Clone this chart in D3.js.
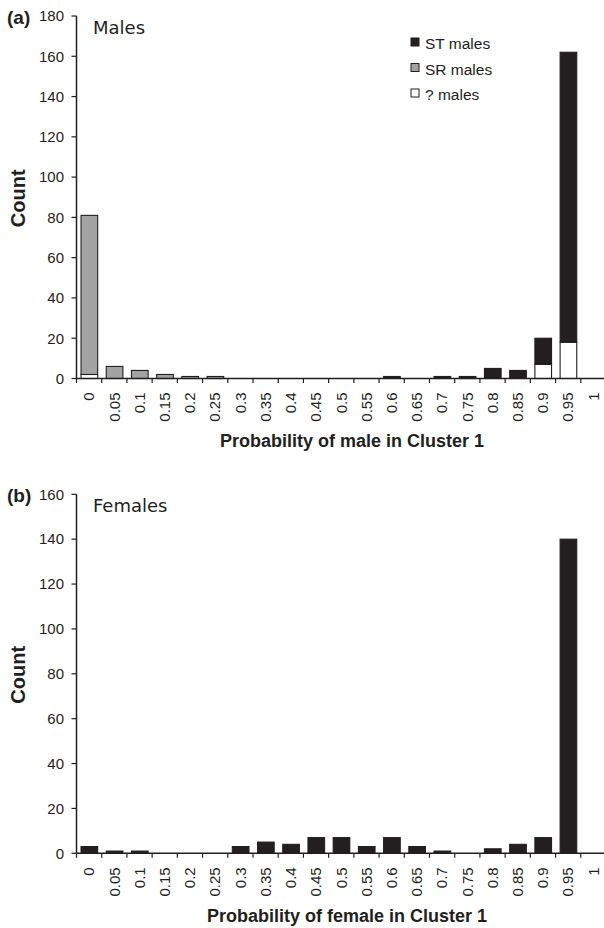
<!DOCTYPE html>
<html>
<head>
<meta charset="utf-8">
<script src="https://cdnjs.cloudflare.com/ajax/libs/d3/7.8.5/d3.min.js"></script>
<style>
  body { margin: 0; background: #fff; }
  svg text { font-family: "Liberation Sans", Arial, sans-serif; fill: #231f20; }
</style>
</head>
<body>
<svg id="chart" width="604" height="928"></svg>
<script>
// bins of the probability of belonging to Cluster 1
var bins = ["0", "0.05", "0.1", "0.15", "0.2", "0.25", "0.3", "0.35", "0.4", "0.45", "0.5",
            "0.55", "0.6", "0.65", "0.7", "0.75", "0.8", "0.85", "0.9", "0.95", "1"];

// (a) males, stacked
var maleUnknown = [2, 0, 0, 0, 0, 0, 0, 0, 0, 0, 0, 0, 0, 0, 0, 0, 0, 0, 7, 18, 0];
var maleSR      = [79, 6, 4, 2, 1, 1, 0, 0, 0, 0, 0, 0, 0, 0, 0, 0, 0, 0, 0, 0, 0];
var maleST      = [0, 0, 0, 0, 0, 0, 0, 0, 0, 0, 0, 0, 1, 0, 1, 1, 5, 4, 13, 144, 0];
var maleSeries  = ["unknown", "SR", "ST"];
var maleLegend  = ["ST males", "SR males", "? males"];
var maleTicks   = [0, 20, 40, 60, 80, 100, 120, 140, 160, 180];

// (b) females
var femaleCounts = [3, 1, 1, 0, 0, 0, 3, 5, 4, 7, 7, 3, 7, 3, 1, 0, 2, 4, 7, 140, 0];
var femaleTicks  = [0, 20, 40, 60, 80, 100, 120, 140, 160];

var colors = {"ST": "#231f20", "SR": "#a3a3a3", "unknown": "#ffffff"};
var ink = "#231f20";

var svg = d3.select("#chart");

var x = d3.scaleBand()
  .domain(bins)
  .range([76.5, 606])
  .padding(0);

var barInset = x.bandwidth() * 0.18,
    barWidth = x.bandwidth() * 0.66;

function drawPanel(opt) {
  var g = svg.append("g");
  var y = d3.scaleLinear().domain([0, opt.max]).range([opt.bottom, opt.top]);

  // bars
  opt.drawBars(g, y);

  // y axis
  g.append("line")
    .attr("x1", x.range()[0]).attr("x2", x.range()[0])
    .attr("y1", y(opt.max)).attr("y2", y(0))
    .attr("stroke", ink).attr("stroke-width", 1.5);
  g.selectAll(".ytick")
    .data(opt.ticks).enter()
    .append("line")
    .attr("x1", x.range()[0] - 5).attr("x2", x.range()[0])
    .attr("y1", function(d) { return y(d); })
    .attr("y2", function(d) { return y(d); })
    .attr("stroke", ink).attr("stroke-width", 1.2);
  g.selectAll(".ylab")
    .data(opt.ticks).enter()
    .append("text")
    .attr("x", 64)
    .attr("y", function(d) { return y(d) + 5.3; })
    .attr("text-anchor", "end")
    .style("font-size", "15px")
    .text(function(d) { return d; });

  // x axis
  g.append("line")
    .attr("x1", x.range()[0]).attr("x2", 604)
    .attr("y1", y(0)).attr("y2", y(0))
    .attr("stroke", ink).attr("stroke-width", 1.5);
  g.selectAll(".xtick")
    .data(bins).enter()
    .append("line")
    .attr("x1", function(d) { return x(d); })
    .attr("x2", function(d) { return x(d); })
    .attr("y1", y(0)).attr("y2", y(0) + 4.5)
    .attr("stroke", ink).attr("stroke-width", 1.2);
  g.selectAll(".xlab")
    .data(bins).enter()
    .append("text")
    .attr("transform", function(d) {
      return "translate(" + (x(d) + x.bandwidth() / 2 + 5.3) + "," + (y(0) + 14) + ") rotate(-90)";
    })
    .attr("text-anchor", "end")
    .style("font-size", "15px")
    .text(function(d) { return d; });

  // titles
  g.append("text")
    .attr("x", opt.titleX).attr("y", opt.titleY)
    .attr("text-anchor", "middle")
    .style("font-size", "18px").style("font-weight", "bold")
    .text(opt.xTitle);
  g.append("text")
    .attr("transform", "translate(25," + ((opt.top + opt.bottom) / 2 + 1) + ") rotate(-90)")
    .attr("text-anchor", "middle")
    .style("font-size", "20px").style("font-weight", "bold")
    .text("Count");
  g.append("text")
    .attr("x", 7).attr("y", opt.top + 8)
    .style("font-size", "19px").style("font-weight", "bold")
    .text(opt.letter);
  g.append("text")
    .attr("x", 93).attr("y", opt.top + 18)
    .style("font-family", "'DejaVu Sans', Verdana, sans-serif")
    .style("font-size", "18px")
    .text(opt.name);
  return y;
}

// (a) males
var maleRows = bins.map(function(b, i) {
  return {bin: b, unknown: maleUnknown[i], SR: maleSR[i], ST: maleST[i]};
});
var stacked = d3.stack().keys(maleSeries)(maleRows);

drawPanel({
  max: 180, top: 16, bottom: 378.5, ticks: maleTicks,
  letter: "(a)", name: "Males",
  xTitle: "Probability of male in Cluster 1", titleX: 352, titleY: 447,
  drawBars: function(g, y) {
    g.selectAll(".layer")
      .data(stacked).enter()
      .append("g")
      .attr("fill", function(s) { return colors[s.key]; })
      .selectAll("rect")
      .data(function(s) { return s.filter(function(d) { return d[1] > d[0]; }); })
      .enter()
      .append("rect")
      .attr("x", function(d) { return x(d.data.bin) + barInset; })
      .attr("y", function(d) { return y(d[1]); })
      .attr("width", barWidth)
      .attr("height", function(d) { return y(d[0]) - y(d[1]); })
      .attr("stroke", ink).attr("stroke-width", 1.1);
  }
});

// legend
var legend = svg.append("g").attr("transform", "translate(411,0)");
var legendKeys = ["ST", "SR", "unknown"];
legendKeys.forEach(function(k, i) {
  var row = legend.append("g").attr("transform", "translate(0," + (38 + i * 25.5) + ")");
  row.append("rect")
    .attr("width", 8).attr("height", 8)
    .attr("fill", colors[k]).attr("stroke", ink).attr("stroke-width", 1);
  row.append("text")
    .attr("x", 14).attr("y", 11)
    .style("font-size", "15.5px")
    .text(maleLegend[i]);
});

// (b) females
drawPanel({
  max: 160, top: 494.3, bottom: 853.3, ticks: femaleTicks,
  letter: "(b)", name: "Females",
  xTitle: "Probability of female in Cluster 1", titleX: 347, titleY: 921.5,
  drawBars: function(g, y) {
    g.selectAll(".fbar")
      .data(bins.filter(function(b, i) { return femaleCounts[i] > 0; }))
      .enter()
      .append("rect")
      .attr("x", function(b) { return x(b) + barInset; })
      .attr("y", function(b) { return y(femaleCounts[bins.indexOf(b)]); })
      .attr("width", barWidth)
      .attr("height", function(b) { return y(0) - y(femaleCounts[bins.indexOf(b)]); })
      .attr("fill", colors.ST)
      .attr("stroke", ink).attr("stroke-width", 1.1);
  }
});
</script>
</body>
</html>
